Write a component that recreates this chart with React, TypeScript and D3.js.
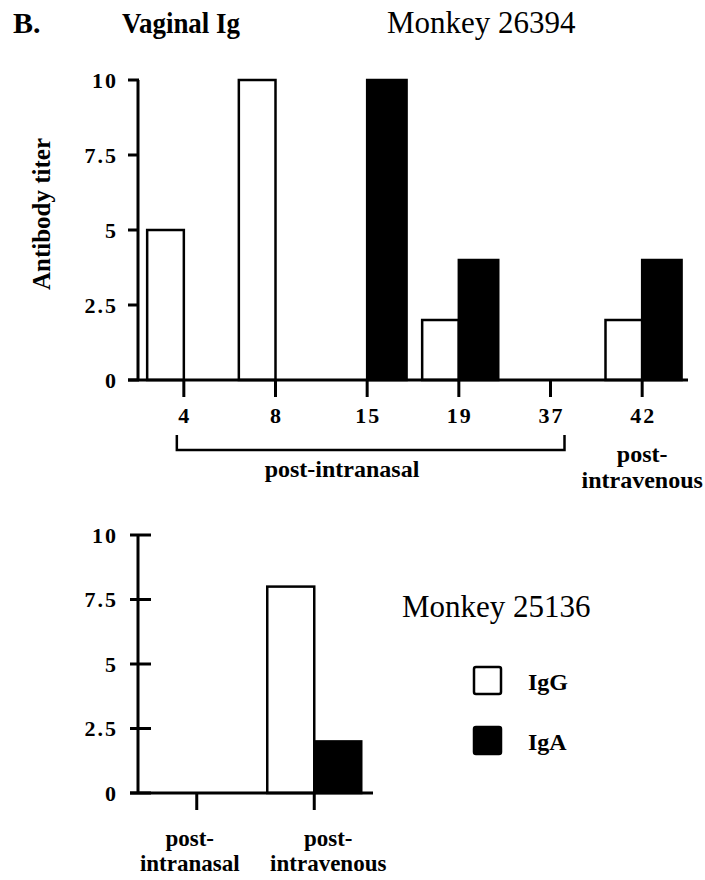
import { useEffect } from 'react';
import * as d3 from 'd3';

// Monkey 26394, days after immunisation
const days = ['4', '8', '15', '19', '37', '42'];
const igG26394 = [5, 10, 0, 2, 0, 2];
const igA26394 = [0, 0, 10, 4, 0, 4];

// Monkey 25136
const routes = [['post-', 'intranasal'], ['post-', 'intravenous']];
const igG25136 = [0, 8];
const igA25136 = [0, 2];

const yTicks = [0, 2.5, 5, 7.5, 10];
const legendItems = ['IgG', 'IgA'];

const serif = '"Liberation Serif", "DejaVu Serif", serif';

export default function App() {
    useEffect(() => {
        document.body.style.margin = '0';
    }, []);

    // top panel scales
    const xTop = d3.scalePoint().domain(days).range([138, 688]).padding(0.5);
    const yTop = d3.scaleLinear().domain([0, 10]).range([380, 80]);
    const stepTop = xTop.step();
    const gwTop = stepTop * 0.4;
    const awTop = stepTop * 0.43;

    // bottom panel scales
    const routeKeys = routes.map(r => r.join(''));
    const xBot = d3.scalePoint().domain(routeKeys).range([138, 373]).padding(0.5);
    const yBot = d3.scaleLinear().domain([0, 10]).range([793, 535]);
    const wBot = xBot.step() * 0.4;

    const tickFont = { fontFamily: serif, fontWeight: 700, fontSize: 22, letterSpacing: 2 };
    const labelFont = { fontFamily: serif, fontWeight: 700, fontSize: 24 };

    return (
        <svg width={705} height={880} style={{ display: 'block', background: '#fff' }}>
            {/* headings */}
            <text x={13} y={33} style={{ fontFamily: serif, fontWeight: 700, fontSize: 30 }}>B.</text>
            <text x={122} y={33} textLength={118} lengthAdjust="spacingAndGlyphs"
                style={{ fontFamily: serif, fontWeight: 700, fontSize: 30 }}>Vaginal Ig</text>
            <text x={387} y={33} style={{ fontFamily: serif, fontSize: 31 }}>Monkey 26394</text>

            {/* y label */}
            <text transform="translate(50,214) rotate(-90)" textAnchor="middle"
                style={{ fontFamily: serif, fontWeight: 700, fontSize: 25 }}>Antibody titer</text>

            {/* top panel bars */}
            <g stroke="#000" strokeWidth={2.5}>
                {days.map((d, i) => igG26394[i] > 0 && (
                    <rect key={'g' + d} x={xTop(d)! - gwTop} y={yTop(igG26394[i])}
                        width={gwTop} height={yTop(0) - yTop(igG26394[i])} fill="#fff" />
                ))}
                {days.map((d, i) => igA26394[i] > 0 && (
                    <rect key={'a' + d} x={xTop(d)!} y={yTop(igA26394[i])}
                        width={awTop} height={yTop(0) - yTop(igA26394[i])} fill="#000" />
                ))}
            </g>

            {/* top panel axes */}
            <g stroke="#000" strokeWidth={3} fill="none">
                <line x1={138} x2={138} y1={yTop(10)} y2={yTop(0)} />
                <line x1={128} x2={688} y1={yTop(0)} y2={yTop(0)} />
                {yTicks.map(t => (
                    <line key={t} x1={128} x2={139} y1={yTop(t)} y2={yTop(t)} />
                ))}
                {days.map(d => (
                    <line key={d} x1={xTop(d)} x2={xTop(d)} y1={yTop(0)} y2={397} />
                ))}
                {/* bracket for post-intranasal days */}
                <path strokeWidth={2.5} d={`M${xTop('4')! - 7},435V450H${xTop('37')! + 14}V435`} />
            </g>
            {yTicks.map(t => (
                <text key={t} x={118} y={yTop(t)} dy="0.35em" textAnchor="end" style={tickFont}>{t}</text>
            ))}
            {days.map(d => (
                <text key={d} x={xTop(d)! + 1} y={423} textAnchor="middle" style={tickFont}>{d}</text>
            ))}
            <text x={342} y={477} textAnchor="middle" style={labelFont}>post-intranasal</text>
            <text x={xTop('42')} y={462} textAnchor="middle" style={labelFont}>post-</text>
            <text x={xTop('42')} y={488} textAnchor="middle" style={labelFont}>intravenous</text>

            {/* bottom panel bars */}
            <g stroke="#000" strokeWidth={2.5}>
                {routeKeys.map((r, i) => igG25136[i] > 0 && (
                    <rect key={'g' + r} x={xBot(r)! - wBot} y={yBot(igG25136[i])}
                        width={wBot} height={yBot(0) - yBot(igG25136[i])} fill="#fff" />
                ))}
                {routeKeys.map((r, i) => igA25136[i] > 0 && (
                    <rect key={'a' + r} x={xBot(r)!} y={yBot(igA25136[i])}
                        width={wBot} height={yBot(0) - yBot(igA25136[i])} fill="#000" />
                ))}
            </g>

            {/* bottom panel axes */}
            <g stroke="#000" strokeWidth={3} fill="none">
                <line x1={138} x2={138} y1={yBot(10)} y2={yBot(0)} />
                <line x1={130} x2={373} y1={yBot(0)} y2={yBot(0)} />
                {yTicks.map(t => (
                    <line key={t} x1={130} x2={151} y1={yBot(t)} y2={yBot(t)} />
                ))}
                {routeKeys.map(r => (
                    <line key={r} x1={xBot(r)} x2={xBot(r)} y1={yBot(0)} y2={810} />
                ))}
            </g>
            {yTicks.map(t => (
                <text key={t} x={118} y={yBot(t)} dy="0.35em" textAnchor="end" style={tickFont}>{t}</text>
            ))}
            {routes.map((r, i) => (
                <text key={i} textAnchor="middle" style={{ ...labelFont, fontSize: 23 }}>
                    <tspan x={xBot(routeKeys[i])! + (i === 0 ? -7 : 14)} y={846}>{r[0]}</tspan>
                    <tspan x={xBot(routeKeys[i])! + (i === 0 ? -7 : 14)} y={871}>{r[1]}</tspan>
                </text>
            ))}

            {/* legend */}
            <text x={402} y={617} style={{ fontFamily: serif, fontSize: 31 }}>Monkey 25136</text>
            {legendItems.map((k, i) => (
                <g key={k} transform={`translate(0,${i * 60})`}>
                    <rect x={474} y={667} width={27} height={27} rx={2}
                        fill={k === 'IgG' ? '#fff' : '#000'} stroke="#000" strokeWidth={2.5} />
                    <text x={528} y={690} style={{ ...labelFont, fontSize: 24 }}>{k}</text>
                </g>
            ))}
        </svg>
    );
}
